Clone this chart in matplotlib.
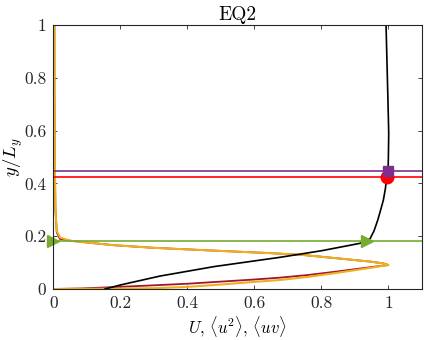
import numpy as np
import matplotlib
matplotlib.use("Agg")
import matplotlib.pyplot as plt

plt.rcParams["font.family"] = "cmr10"
plt.rcParams["mathtext.fontset"] = "cm"
plt.rcParams["axes.formatter.use_mathtext"] = True

# mean velocity profile U(y)
u_mean = [0.154, 0.199, 0.318, 0.48, 0.676, 0.80, 0.915, 0.945, 0.957, 0.968,
          0.977, 0.985, 0.991, 0.995, 0.999, 1.000, 1.001, 0.999, 0.997, 0.995, 0.993]
y_mean = [0.0, 0.015, 0.049, 0.085, 0.12, 0.145, 0.173, 0.19, 0.22, 0.26,
          0.30, 0.337, 0.38, 0.423, 0.447, 0.50, 0.59, 0.70, 0.80, 0.90, 1.0]

# <u^2> profile (normalised)
uu = [0.0, 0.08, 0.159, 0.30, 0.40, 0.50, 0.60, 0.676, 0.76, 0.845, 0.93, 0.975,
      1.0, 0.985, 0.945, 0.85, 0.745, 0.646, 0.487, 0.30, 0.18, 0.109, 0.05,
      0.019, 0.010, 0.006, 0.004, 0.003, 0.003]
y_uu = [0.0, 0.002, 0.006, 0.014, 0.020, 0.028, 0.036, 0.043, 0.053, 0.066, 0.080, 0.087,
        0.091, 0.097, 0.104, 0.116, 0.129, 0.136, 0.145, 0.156, 0.166, 0.175, 0.183,
        0.190, 0.215, 0.30, 0.50, 0.75, 1.0]

# <uv> profile (normalised)
uv = [0.0, 0.15, 0.30, 0.40, 0.50, 0.60, 0.676, 0.76, 0.845, 0.93, 0.975,
      1.0, 0.985, 0.945, 0.85, 0.745, 0.646, 0.487, 0.30, 0.18, 0.109, 0.05,
      0.02, 0.010, 0.006, 0.004, 0.003, 0.003]
y_uv = [0.0, 0.001, 0.003, 0.008, 0.017, 0.027, 0.034, 0.046, 0.061, 0.077, 0.086,
        0.091, 0.097, 0.104, 0.116, 0.129, 0.136, 0.145, 0.156, 0.166, 0.175, 0.183,
        0.195, 0.22, 0.30, 0.50, 0.75, 1.0]

# reference heights and marker positions
y_purple = 0.447
y_red = 0.424
y_green = 0.183
x_square = 0.999
x_circle = 0.995
x_tri = [0.0, 0.937]

fig = plt.figure(figsize=(4.24, 3.4), dpi=100)
ax = fig.add_axes([0.126, 0.15, 0.869, 0.776])

ax.plot(uu, y_uu, color="#A2142F", lw=1.3)
ax.plot(uv, y_uv, color="#EDB120", lw=1.5)
ax.plot(u_mean, y_mean, color="k", lw=1.2)

ax.axhline(y_green, color="#77AC30", lw=1.2)
ax.axhline(y_red, color="#FF0000", lw=1.2)
ax.axhline(y_purple, color="#7E2F8E", lw=1.2)

ax.plot(x_tri, [y_green] * 2, ">", color="#77AC30", ms=9, clip_on=False)
ax.plot(x_circle, y_red, "o", color="#FF0000", ms=9, clip_on=False)
ax.plot(x_square, y_purple, "s", color="#7E2F8E", ms=7, clip_on=False)

ax.set_xlim(0, 1.1)
ax.set_ylim(0, 1)
ax.set_xticks([0, 0.2, 0.4, 0.6, 0.8, 1])
ax.set_yticks([0, 0.2, 0.4, 0.6, 0.8, 1])
ax.set_xticklabels(["0", "0.2", "0.4", "0.6", "0.8", "1"])
ax.set_yticklabels(["0", "0.2", "0.4", "0.6", "0.8", "1"])
ax.tick_params(direction="in", top=True, right=True, length=3, width=0.6,
               labelsize=12.5, colors="#262626", pad=5)
for s in ax.spines.values():
    s.set_color("#262626")
    s.set_linewidth(0.8)

ax.set_title("EQ2", fontsize=14, pad=4)
ax.set_xlabel(r"$U,\,\langle u^2\rangle,\,\langle uv\rangle$", fontsize=12, labelpad=2)
ax.set_ylabel(r"$y/L_y$", fontsize=13.5)
ax.yaxis.set_label_coords(-0.078, 0.5)

fig.savefig("out.png", dpi=100)
